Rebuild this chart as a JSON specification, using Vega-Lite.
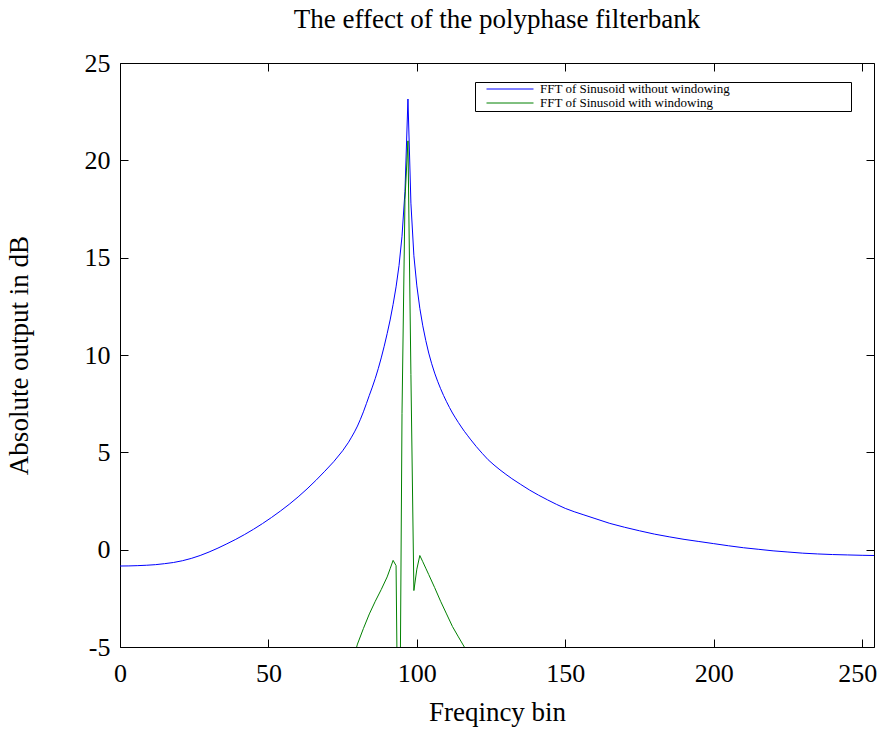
{
  "$schema": "https://vega.github.io/schema/vega-lite/v6.json",
  "width": 754,
  "height": 584,
  "autosize": {"type": "none"},
  "padding": {"left": 120, "top": 63, "right": 3, "bottom": 82},
  "background": "white",
  "title": {"text": "The effect of the polyphase filterbank", "font": "Liberation Serif", "fontSize": 27, "fontWeight": "normal", "color": "black", "offset": 34, "dy": 39, "anchor": "middle", "baseline": "alphabetic"},
  "config": {
    "view": {"stroke": "black", "strokeWidth": 1},
    "axis": {"domain": false, "grid": false, "ticks": true, "tickColor": "black", "tickWidth": 1, "tickSize": -8, "labelFlush": false, "labelFont": "Liberation Serif", "labelFontSize": 26, "labelColor": "black", "titleFont": "Liberation Serif", "titleFontSize": 27, "titleFontWeight": "normal", "titleColor": "black"}
  },
  "data": {"values": [
    {"k": 0, "v": -0.84, "s": "FFT of Sinusoid without windowing"},
    {"k": 3, "v": -0.835, "s": "FFT of Sinusoid without windowing"},
    {"k": 6, "v": -0.82, "s": "FFT of Sinusoid without windowing"},
    {"k": 9, "v": -0.8, "s": "FFT of Sinusoid without windowing"},
    {"k": 12, "v": -0.77, "s": "FFT of Sinusoid without windowing"},
    {"k": 15, "v": -0.72, "s": "FFT of Sinusoid without windowing"},
    {"k": 18, "v": -0.66, "s": "FFT of Sinusoid without windowing"},
    {"k": 21, "v": -0.57, "s": "FFT of Sinusoid without windowing"},
    {"k": 24, "v": -0.45, "s": "FFT of Sinusoid without windowing"},
    {"k": 27, "v": -0.3, "s": "FFT of Sinusoid without windowing"},
    {"k": 30, "v": -0.12, "s": "FFT of Sinusoid without windowing"},
    {"k": 33, "v": 0.08, "s": "FFT of Sinusoid without windowing"},
    {"k": 36, "v": 0.3, "s": "FFT of Sinusoid without windowing"},
    {"k": 39, "v": 0.53, "s": "FFT of Sinusoid without windowing"},
    {"k": 42, "v": 0.78, "s": "FFT of Sinusoid without windowing"},
    {"k": 45, "v": 1.05, "s": "FFT of Sinusoid without windowing"},
    {"k": 48, "v": 1.34, "s": "FFT of Sinusoid without windowing"},
    {"k": 51, "v": 1.65, "s": "FFT of Sinusoid without windowing"},
    {"k": 54, "v": 1.98, "s": "FFT of Sinusoid without windowing"},
    {"k": 57, "v": 2.33, "s": "FFT of Sinusoid without windowing"},
    {"k": 60, "v": 2.71, "s": "FFT of Sinusoid without windowing"},
    {"k": 63, "v": 3.12, "s": "FFT of Sinusoid without windowing"},
    {"k": 66, "v": 3.56, "s": "FFT of Sinusoid without windowing"},
    {"k": 69, "v": 4.03, "s": "FFT of Sinusoid without windowing"},
    {"k": 72, "v": 4.52, "s": "FFT of Sinusoid without windowing"},
    {"k": 75, "v": 5.08, "s": "FFT of Sinusoid without windowing"},
    {"k": 77, "v": 5.52, "s": "FFT of Sinusoid without windowing"},
    {"k": 78, "v": 5.78, "s": "FFT of Sinusoid without windowing"},
    {"k": 79, "v": 6.05, "s": "FFT of Sinusoid without windowing"},
    {"k": 80, "v": 6.35, "s": "FFT of Sinusoid without windowing"},
    {"k": 81, "v": 6.7, "s": "FFT of Sinusoid without windowing"},
    {"k": 82, "v": 7.08, "s": "FFT of Sinusoid without windowing"},
    {"k": 83, "v": 7.5, "s": "FFT of Sinusoid without windowing"},
    {"k": 84, "v": 7.93, "s": "FFT of Sinusoid without windowing"},
    {"k": 85, "v": 8.35, "s": "FFT of Sinusoid without windowing"},
    {"k": 86, "v": 8.8, "s": "FFT of Sinusoid without windowing"},
    {"k": 87, "v": 9.3, "s": "FFT of Sinusoid without windowing"},
    {"k": 88, "v": 9.85, "s": "FFT of Sinusoid without windowing"},
    {"k": 89, "v": 10.45, "s": "FFT of Sinusoid without windowing"},
    {"k": 90, "v": 11.1, "s": "FFT of Sinusoid without windowing"},
    {"k": 91, "v": 11.8, "s": "FFT of Sinusoid without windowing"},
    {"k": 92, "v": 12.6, "s": "FFT of Sinusoid without windowing"},
    {"k": 93, "v": 13.5, "s": "FFT of Sinusoid without windowing"},
    {"k": 94, "v": 14.6, "s": "FFT of Sinusoid without windowing"},
    {"k": 95, "v": 16.1, "s": "FFT of Sinusoid without windowing"},
    {"k": 96, "v": 18.4, "s": "FFT of Sinusoid without windowing"},
    {"k": 97, "v": 23.15, "s": "FFT of Sinusoid without windowing"},
    {"k": 98, "v": 17.8, "s": "FFT of Sinusoid without windowing"},
    {"k": 99, "v": 15.1, "s": "FFT of Sinusoid without windowing"},
    {"k": 100, "v": 13.55, "s": "FFT of Sinusoid without windowing"},
    {"k": 101, "v": 12.4, "s": "FFT of Sinusoid without windowing"},
    {"k": 102, "v": 11.5, "s": "FFT of Sinusoid without windowing"},
    {"k": 103, "v": 10.75, "s": "FFT of Sinusoid without windowing"},
    {"k": 104, "v": 10.1, "s": "FFT of Sinusoid without windowing"},
    {"k": 105, "v": 9.55, "s": "FFT of Sinusoid without windowing"},
    {"k": 106, "v": 9.07, "s": "FFT of Sinusoid without windowing"},
    {"k": 107, "v": 8.65, "s": "FFT of Sinusoid without windowing"},
    {"k": 108, "v": 8.27, "s": "FFT of Sinusoid without windowing"},
    {"k": 109, "v": 7.92, "s": "FFT of Sinusoid without windowing"},
    {"k": 110, "v": 7.6, "s": "FFT of Sinusoid without windowing"},
    {"k": 111, "v": 7.3, "s": "FFT of Sinusoid without windowing"},
    {"k": 112, "v": 7.02, "s": "FFT of Sinusoid without windowing"},
    {"k": 113, "v": 6.77, "s": "FFT of Sinusoid without windowing"},
    {"k": 114, "v": 6.53, "s": "FFT of Sinusoid without windowing"},
    {"k": 115, "v": 6.3, "s": "FFT of Sinusoid without windowing"},
    {"k": 116, "v": 6.08, "s": "FFT of Sinusoid without windowing"},
    {"k": 117, "v": 5.88, "s": "FFT of Sinusoid without windowing"},
    {"k": 118, "v": 5.68, "s": "FFT of Sinusoid without windowing"},
    {"k": 120, "v": 5.3, "s": "FFT of Sinusoid without windowing"},
    {"k": 122, "v": 4.95, "s": "FFT of Sinusoid without windowing"},
    {"k": 124, "v": 4.62, "s": "FFT of Sinusoid without windowing"},
    {"k": 126, "v": 4.35, "s": "FFT of Sinusoid without windowing"},
    {"k": 128, "v": 4.1, "s": "FFT of Sinusoid without windowing"},
    {"k": 130, "v": 3.87, "s": "FFT of Sinusoid without windowing"},
    {"k": 132, "v": 3.65, "s": "FFT of Sinusoid without windowing"},
    {"k": 135, "v": 3.35, "s": "FFT of Sinusoid without windowing"},
    {"k": 138, "v": 3.06, "s": "FFT of Sinusoid without windowing"},
    {"k": 141, "v": 2.8, "s": "FFT of Sinusoid without windowing"},
    {"k": 144, "v": 2.56, "s": "FFT of Sinusoid without windowing"},
    {"k": 147, "v": 2.33, "s": "FFT of Sinusoid without windowing"},
    {"k": 150, "v": 2.12, "s": "FFT of Sinusoid without windowing"},
    {"k": 153, "v": 1.95, "s": "FFT of Sinusoid without windowing"},
    {"k": 156, "v": 1.8, "s": "FFT of Sinusoid without windowing"},
    {"k": 160, "v": 1.6, "s": "FFT of Sinusoid without windowing"},
    {"k": 165, "v": 1.35, "s": "FFT of Sinusoid without windowing"},
    {"k": 170, "v": 1.15, "s": "FFT of Sinusoid without windowing"},
    {"k": 175, "v": 0.97, "s": "FFT of Sinusoid without windowing"},
    {"k": 180, "v": 0.8, "s": "FFT of Sinusoid without windowing"},
    {"k": 185, "v": 0.66, "s": "FFT of Sinusoid without windowing"},
    {"k": 190, "v": 0.53, "s": "FFT of Sinusoid without windowing"},
    {"k": 195, "v": 0.42, "s": "FFT of Sinusoid without windowing"},
    {"k": 200, "v": 0.31, "s": "FFT of Sinusoid without windowing"},
    {"k": 205, "v": 0.2, "s": "FFT of Sinusoid without windowing"},
    {"k": 210, "v": 0.1, "s": "FFT of Sinusoid without windowing"},
    {"k": 215, "v": 0.02, "s": "FFT of Sinusoid without windowing"},
    {"k": 220, "v": -0.06, "s": "FFT of Sinusoid without windowing"},
    {"k": 225, "v": -0.12, "s": "FFT of Sinusoid without windowing"},
    {"k": 230, "v": -0.18, "s": "FFT of Sinusoid without windowing"},
    {"k": 235, "v": -0.22, "s": "FFT of Sinusoid without windowing"},
    {"k": 240, "v": -0.25, "s": "FFT of Sinusoid without windowing"},
    {"k": 245, "v": -0.27, "s": "FFT of Sinusoid without windowing"},
    {"k": 250, "v": -0.29, "s": "FFT of Sinusoid without windowing"},
    {"k": 254, "v": -0.3, "s": "FFT of Sinusoid without windowing"},
    {"k": 72, "v": -8.0, "s": "FFT of Sinusoid with windowing"},
    {"k": 75, "v": -7.0, "s": "FFT of Sinusoid with windowing"},
    {"k": 78, "v": -5.9, "s": "FFT of Sinusoid with windowing"},
    {"k": 80, "v": -4.85, "s": "FFT of Sinusoid with windowing"},
    {"k": 82, "v": -4.05, "s": "FFT of Sinusoid with windowing"},
    {"k": 84, "v": -3.3, "s": "FFT of Sinusoid with windowing"},
    {"k": 86, "v": -2.65, "s": "FFT of Sinusoid with windowing"},
    {"k": 88, "v": -2.05, "s": "FFT of Sinusoid with windowing"},
    {"k": 90, "v": -1.4, "s": "FFT of Sinusoid with windowing"},
    {"k": 91, "v": -0.98, "s": "FFT of Sinusoid with windowing"},
    {"k": 92, "v": -0.55, "s": "FFT of Sinusoid with windowing"},
    {"k": 93, "v": -0.82, "s": "FFT of Sinusoid with windowing"},
    {"k": 94, "v": -16, "s": "FFT of Sinusoid with windowing"},
    {"k": 95, "v": 7, "s": "FFT of Sinusoid with windowing"},
    {"k": 96, "v": 18, "s": "FFT of Sinusoid with windowing"},
    {"k": 97, "v": 21.0, "s": "FFT of Sinusoid with windowing"},
    {"k": 98, "v": 9, "s": "FFT of Sinusoid with windowing"},
    {"k": 99, "v": -2.1, "s": "FFT of Sinusoid with windowing"},
    {"k": 100, "v": -1.0, "s": "FFT of Sinusoid with windowing"},
    {"k": 101, "v": -0.3, "s": "FFT of Sinusoid with windowing"},
    {"k": 102, "v": -0.62, "s": "FFT of Sinusoid with windowing"},
    {"k": 103, "v": -0.95, "s": "FFT of Sinusoid with windowing"},
    {"k": 104, "v": -1.28, "s": "FFT of Sinusoid with windowing"},
    {"k": 106, "v": -1.95, "s": "FFT of Sinusoid with windowing"},
    {"k": 108, "v": -2.65, "s": "FFT of Sinusoid with windowing"},
    {"k": 110, "v": -3.3, "s": "FFT of Sinusoid with windowing"},
    {"k": 112, "v": -3.95, "s": "FFT of Sinusoid with windowing"},
    {"k": 114, "v": -4.48, "s": "FFT of Sinusoid with windowing"},
    {"k": 116, "v": -5.0, "s": "FFT of Sinusoid with windowing"},
    {"k": 118, "v": -5.55, "s": "FFT of Sinusoid with windowing"},
    {"k": 121, "v": -6.4, "s": "FFT of Sinusoid with windowing"}
  ]},
  "layer": [
    {
      "mark": {"type": "line", "strokeWidth": 1, "clip": true},
      "encoding": {
        "x": {"field": "k", "type": "quantitative", "scale": {"domain": [0, 254], "nice": false, "zero": false},
              "axis": {"orient": "bottom", "values": [0, 50, 100, 150, 200, 250], "title": "Freqincy bin", "labelPadding": 21, "titlePadding": 13,
                       "labelOffset": {"condition": {"test": "datum.value == 250", "value": -5}, "value": 0}}},
        "y": {"field": "v", "type": "quantitative", "scale": {"domain": [-5, 25], "nice": false, "zero": false},
              "axis": {"orient": "left", "values": [-5, 0, 5, 10, 15, 20, 25], "title": "Absolute output in dB", "labelExpr": "'' + datum.value", "labelPadding": 18, "titlePadding": 51}},
        "color": {"field": "s", "type": "nominal",
                  "scale": {"domain": ["FFT of Sinusoid without windowing", "FFT of Sinusoid with windowing"], "range": ["#0000ff", "#008000"]},
                  "legend": {"orient": "none", "legendX": 355, "legendY": 19, "title": null, "strokeColor": "black", "fillColor": "white", "padding": 1, "symbolType": "stroke", "symbolSize": 2209, "symbolStrokeWidth": 1, "symbolOffset": 10, "labelOffset": 6, "clipHeight": 12, "rowPadding": 1, "labelLimit": 600, "labelFont": "Liberation Serif", "labelFontSize": 13, "labelColor": "black",
                             "labelExpr": "datum.label + '\\u2800\\u2800\\u2800\\u2800\\u2800\\u2800\\u2800\\u2800\\u2800\\u2800\\u2800\\u2800'"}}
      }
    },
    {
      "mark": {"type": "line", "strokeOpacity": 0, "clip": true},
      "encoding": {
        "x": {"field": "k", "type": "quantitative", "axis": {"orient": "top", "values": [0, 50, 100, 150, 200, 250], "labels": false, "title": null}},
        "y": {"field": "v", "type": "quantitative", "axis": {"orient": "right", "values": [-5, 0, 5, 10, 15, 20, 25], "labels": false, "title": null}},
        "detail": {"field": "s", "type": "nominal"}
      }
    }
  ],
  "resolve": {"axis": {"x": "independent", "y": "independent"}}
}
